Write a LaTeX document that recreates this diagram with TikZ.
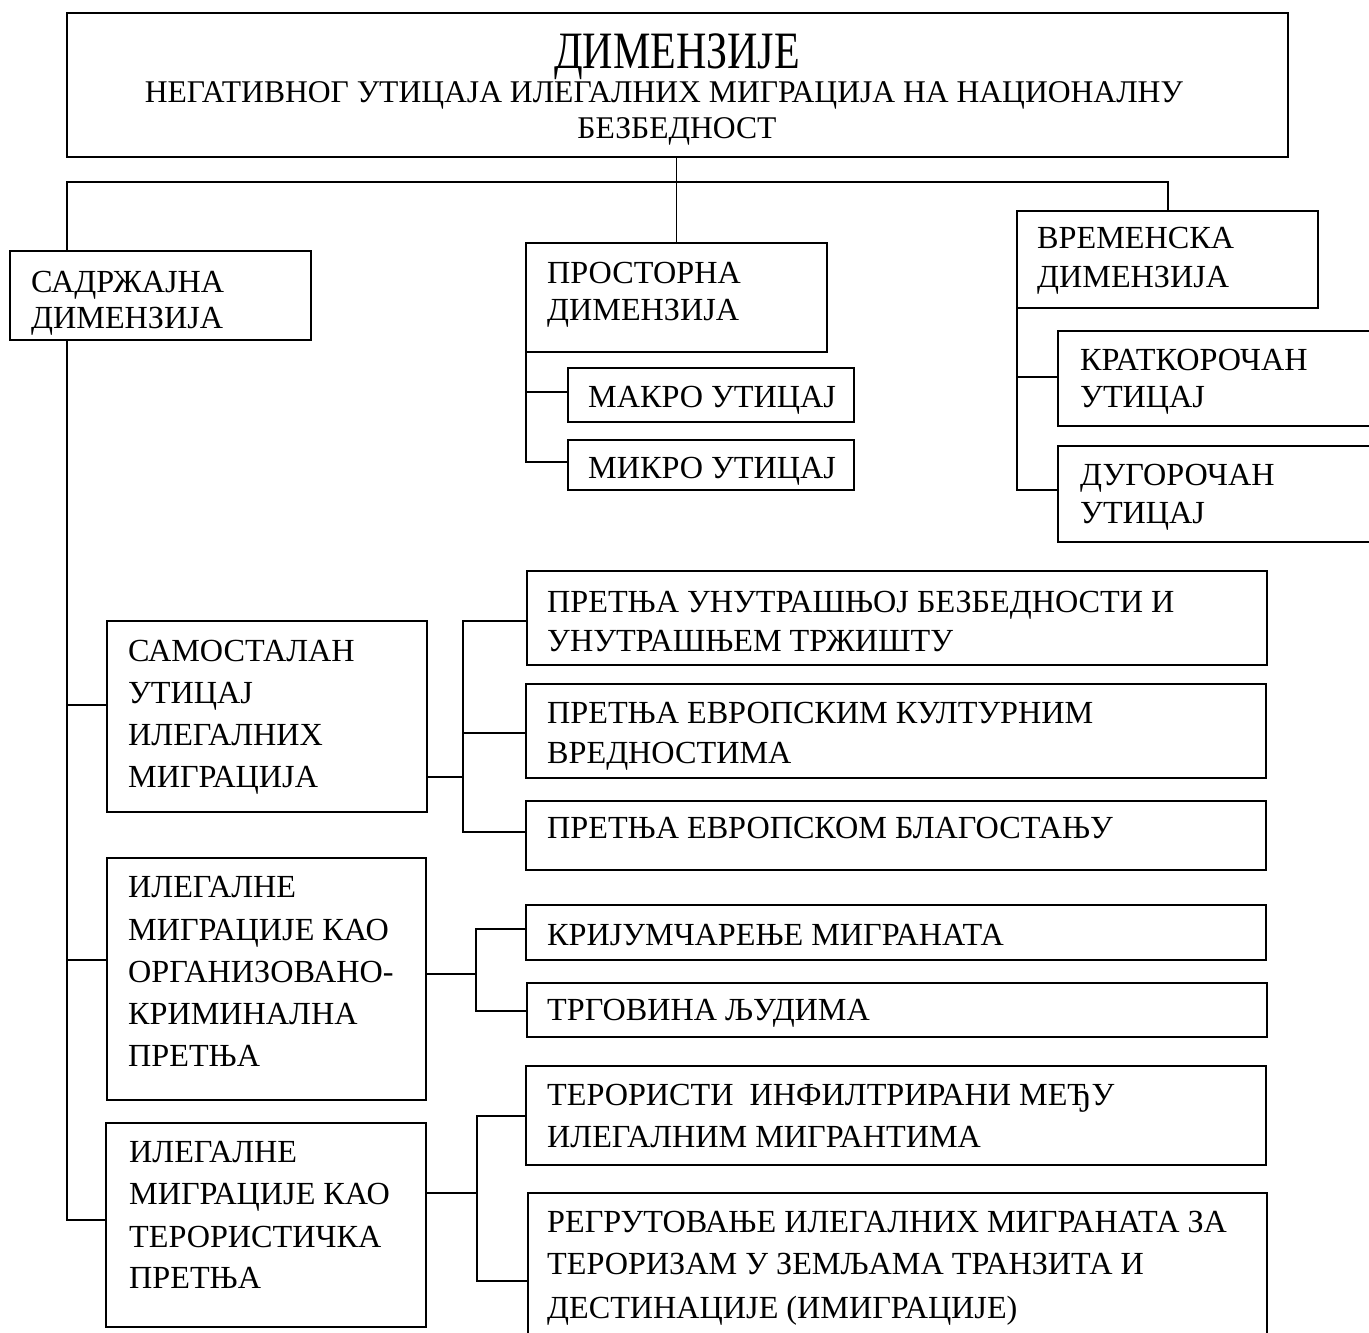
\documentclass[tikz,border=0pt]{standalone}
\usepackage{fontspec}
\setmainfont{Liberation Serif}
% rectangle node given by its top-left and bottom-right corners
\newcommand\rectnode[5]{\node[box, minimum width={#4-#2}, minimum height={#5-#3}] (#1) at (#2,#3) {};}
\begin{document}
\begin{tikzpicture}[x=1pt,y=-1pt,
  box/.style={draw, line width=1.8pt, rectangle, inner sep=0pt, outer sep=0pt, anchor=north west},
  txt/.style={anchor=base west, inner sep=0pt, font=\fontsize{32.2}{38}\selectfont},
  ctr/.style={anchor=base, inner sep=0pt, font=\fontsize{31.6}{38}\selectfont},
  wire/.style={line width=1.8pt}]
\clip (0,0) rectangle (1369,1333);
\fill[white] (0,0) rectangle (1369,1333);

% ---------- title ----------
\rectnode{top}{67}{13}{1288}{157}
\node[anchor=base, inner sep=0pt] (t1) at (677,68) {\scalebox{1}[1.25]{\fontsize{42}{42}\selectfont ДИМЕНЗИЈЕ}};
\node[ctr] (t2) at (664,102) {НЕГАТИВНОГ УТИЦАЈА ИЛЕГАЛНИХ МИГРАЦИЈА НА НАЦИОНАЛНУ};
\node[ctr] (t3) at (677,138) {БЕЗБЕДНОСТ};

% ---------- three dimensions ----------
\rectnode{sad}{10}{251}{311}{340}
\node[txt] (sad1) at (31,292) {САДРЖАЈНА};
\node[txt] (sad2) at (31,328) {ДИМЕНЗИЈА};

\rectnode{pros}{526}{243}{827}{352}
\node[txt] (pros1) at (547,283) {ПРОСТОРНА};
\node[txt] (pros2) at (547,320) {ДИМЕНЗИЈА};

\rectnode{vrem}{1017}{211}{1318}{308}
\node[txt] (vrem1) at (1037,248) {ВРЕМЕНСКА};
\node[txt] (vrem2) at (1037,287) {ДИМЕНЗИЈА};

% ---------- spatial ----------
\rectnode{makro}{568}{368}{854}{422}
\node[txt] (makro1) at (588,407) {МАКРО УТИЦАЈ};
\rectnode{mikro}{568}{440}{854}{490}
\node[txt] (mikro1) at (588,478) {МИКРО УТИЦАЈ};

% ---------- temporal ----------
\rectnode{krat}{1058}{331}{1385}{426}
\node[txt] (krat1) at (1080,370) {КРАТКОРОЧАН};
\node[txt] (krat2) at (1080,407) {УТИЦАЈ};
\rectnode{dug}{1058}{446}{1385}{542}
\node[txt] (dug1) at (1080,485) {ДУГОРОЧАН};
\node[txt] (dug2) at (1080,523) {УТИЦАЈ};

% ---------- content: independent impact ----------
\rectnode{sam}{107}{621}{427}{812}
\node[txt] (sam1) at (128,661) {САМОСТАЛАН};
\node[txt] (sam2) at (128,703) {УТИЦАЈ};
\node[txt] (sam3) at (128,745) {ИЛЕГАЛНИХ};
\node[txt] (sam4) at (128,787) {МИГРАЦИЈА};

\rectnode{p1}{527}{571}{1267}{665}
\node[txt] (p1a) at (547,612) {ПРЕТЊА УНУТРАШЊОЈ БЕЗБЕДНОСТИ И};
\node[txt] (p1b) at (547,651) {УНУТРАШЊЕМ ТРЖИШТУ};
\rectnode{p2}{526}{684}{1266}{778}
\node[txt] (p2a) at (547,723) {ПРЕТЊА ЕВРОПСКИМ КУЛТУРНИМ};
\node[txt] (p2b) at (547,763) {ВРЕДНОСТИМА};
\rectnode{p3}{526}{801}{1266}{870}
\node[txt] (p3a) at (547,838) {ПРЕТЊА ЕВРОПСКОМ БЛАГОСТАЊУ};

% ---------- content: organised crime ----------
\rectnode{org}{107}{858}{426}{1100}
\node[txt] (org1) at (128,897) {ИЛЕГАЛНЕ};
\node[txt] (org2) at (128,940) {МИГРАЦИЈЕ КАО};
\node[txt] (org3) at (128,982) {ОРГАНИЗОВАНО-};
\node[txt] (org4) at (128,1024) {КРИМИНАЛНА};
\node[txt] (org5) at (128,1066) {ПРЕТЊА};

\rectnode{kri}{526}{905}{1266}{960}
\node[txt] (kri1) at (547,945) {КРИЈУМЧАРЕЊЕ МИГРАНАТА};
\rectnode{trg}{527}{983}{1267}{1037}
\node[txt] (trg1) at (547,1020) {ТРГОВИНА ЉУДИМА};

% ---------- content: terrorism ----------
\rectnode{ter}{106}{1123}{426}{1327}
\node[txt] (ter1) at (129,1162) {ИЛЕГАЛНЕ};
\node[txt] (ter2) at (129,1204) {МИГРАЦИЈЕ КАО};
\node[txt] (ter3) at (129,1247) {ТЕРОРИСТИЧКА};
\node[txt] (ter4) at (129,1288) {ПРЕТЊА};

\rectnode{inf}{526}{1066}{1266}{1165}
\node[txt] (inf1) at (547,1105) {ТЕРОРИСТИ\ \ ИНФИЛТРИРАНИ МЕЂУ};
\node[txt] (inf2) at (547,1147) {ИЛЕГАЛНИМ МИГРАНТИМА};
\rectnode{reg}{528}{1193}{1267}{1350}
\node[txt] (reg1) at (547,1232) {РЕГРУТОВАЊЕ ИЛЕГАЛНИХ МИГРАНАТА ЗА};
\node[txt] (reg2) at (547,1274) {ТЕРОРИЗАМ У ЗЕМЉАМА ТРАНЗИТА И};
\node[txt] (reg3) at (547,1318) {ДЕСТИНАЦИЈЕ (ИМИГРАЦИЈЕ)};

% ---------- junction points ----------
\coordinate (hl) at (67,182);
\coordinate (hr) at (1168,182);
\coordinate (jsam) at (67,705);
\coordinate (jorg) at (67,960);
\coordinate (jter) at (67,1220);
\coordinate (prosT) at (526,392);
\coordinate (prosB) at (526,462);
\coordinate (vremT) at (1017,377);
\coordinate (vremB) at (1017,490);
\coordinate (samR) at (463,777);
\coordinate (samT) at (463,621);
\coordinate (samM) at (463,733);
\coordinate (samB) at (463,832);
\coordinate (orgR) at (476,974);
\coordinate (orgT) at (476,929);
\coordinate (orgB) at (476,1011);
\coordinate (terR) at (477,1193);
\coordinate (terT) at (477,1116);
\coordinate (terB) at (477,1281);

% ---------- connectors ----------
\draw[wire] (pros.north |- top.south) -- (pros.north);
\draw[wire] (sad.north -| hl) -- (hl) -- (hr) -- (vrem.north -| hr);

% content trunk
\draw[wire] (sad.south -| hl) -- (jter) -- (jter -| ter.west);
\draw[wire] (jsam) -- (jsam -| sam.west);
\draw[wire] (jorg) -- (jorg -| org.west);

% spatial
\draw[wire] (pros.south west) -- (prosB) -- (prosB -| mikro.west);
\draw[wire] (prosT) -- (prosT -| makro.west);

% temporal
\draw[wire] (vrem.south west) -- (vremB) -- (vremB -| dug.west);
\draw[wire] (vremT) -- (vremT -| krat.west);

% independent impact
\draw[wire] (samR -| sam.east) -- (samR);
\draw[wire] (samT -| p1.west) -- (samT) -- (samB) -- (samB -| p3.west);
\draw[wire] (samM) -- (samM -| p2.west);

% organised crime
\draw[wire] (orgR -| org.east) -- (orgR);
\draw[wire] (orgT -| kri.west) -- (orgT) -- (orgB) -- (orgB -| trg.west);

% terrorism
\draw[wire] (terR -| ter.east) -- (terR);
\draw[wire] (terT -| inf.west) -- (terT) -- (terB) -- (terB -| reg.west);
\end{tikzpicture}
\end{document}
